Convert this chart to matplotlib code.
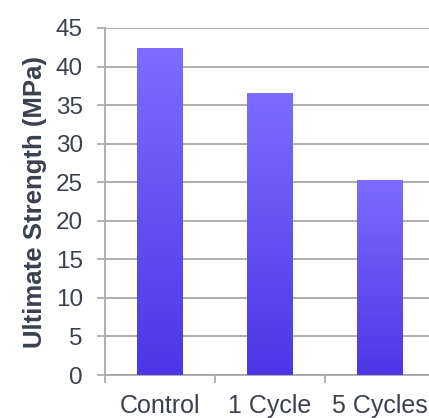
import matplotlib
matplotlib.use("Agg")
import matplotlib.pyplot as plt
import numpy as np
from matplotlib.colors import LinearSegmentedColormap

categories = ["Control", "1 Cycle", "5 Cycles"]
strength = [42.4, 36.6, 25.3]
yticks = [0, 5, 10, 15, 20, 25, 30, 35, 40, 45]

plt.rcParams["font.family"] = ["Liberation Sans", "DejaVu Sans"]
ink = "#3A404C"
grid = "#A8A8A8"

fig = plt.figure(figsize=(4.29, 4.18), dpi=100)
ax = fig.add_axes([105 / 429, 43 / 418, 330 / 429, 347 / 418])

# vertical gradient per bar, light at top, dark at base
cmap = LinearSegmentedColormap.from_list("bar", ["#4D36E6", "#7C6DFF"])
grad = np.linspace(0, 1, 256).reshape(-1, 1)
width = 0.41
x = np.arange(len(categories))
bars = ax.bar(x, strength, width=width, color="none", zorder=3)
for bar, val in zip(bars, strength):
    x0 = bar.get_x()
    im = ax.imshow(grad, extent=[x0, x0 + width, 0, val], origin="lower",
                   cmap=cmap, aspect="auto", zorder=3)
    im.set_clip_path(bar)

ax.set_xlim(-0.5, 2.5)
ax.set_ylim(0, 45)
ax.set_yticks(yticks)
ax.set_xticks(x, categories)
ax.set_xticks([-0.5, 0.5, 1.5, 2.5], minor=True)
ax.tick_params(axis="x", which="major", length=0, pad=13.5, labelsize=18, colors=ink)
ax.tick_params(axis="x", which="minor", length=6, width=1.2, color=grid)
ax.tick_params(axis="y", length=6, width=1.2, color=grid, pad=10, labelsize=17.5, labelcolor=ink)
ax.yaxis.grid(True, color=grid, linewidth=1.3, zorder=0)
ax.set_axisbelow(True)
for side in ("top", "right"):
    ax.spines[side].set_visible(False)
for side in ("left", "bottom"):
    ax.spines[side].set_color(grid)
    ax.spines[side].set_linewidth(1.3)
ax.set_ylabel("Ultimate Strength (MPa)", fontsize=18.5, fontweight="bold", color=ink, labelpad=6)

fig.savefig("out.png", dpi=100, facecolor="white")
